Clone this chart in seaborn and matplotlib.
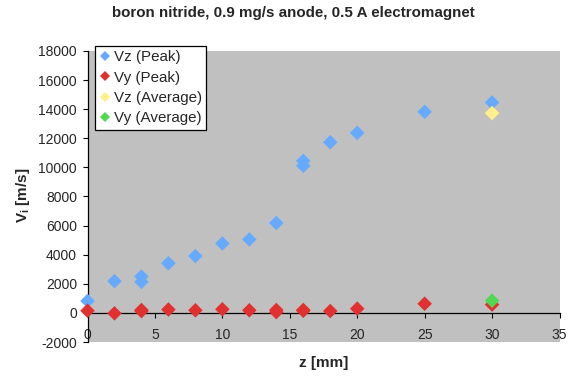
import matplotlib
matplotlib.use("Agg")
import matplotlib.pyplot as plt
import seaborn as sns
import pandas as pd

title = "boron nitride, 0.9 mg/s anode, 0.5 A electromagnet"
series_names = ["Vz (Peak)", "Vy (Peak)", "Vz (Average)", "Vy (Average)"]

z_peak = [0, 2, 4, 4, 6, 8, 10, 12, 14, 16, 16, 18, 20, 25, 30]
vz_peak = [820, 2180, 2500, 2130, 3410, 3910, 4770, 5050, 6180, 10450, 10110, 11730, 12370, 13820, 14460]
z_vy = [0, 2, 4, 4, 6, 8, 10, 12, 14, 14, 16, 16, 18, 20, 25, 30]
vy_peak = [150, -30, 200, 120, 230, 180, 250, 180, 200, 50, 200, 150, 130, 290, 630, 570]
z_avg = [30]
vz_avg = [13730]
vy_avg = [840]

xticks = [0, 5, 10, 15, 20, 25, 30, 35]
yticks = list(range(-2000, 18001, 2000))

colors = ["#66AAFF", "#E03030", "#FFF08A", "#50D850"]

df = pd.concat([
    pd.DataFrame({"z": z_peak, "v": vz_peak, "series": series_names[0]}),
    pd.DataFrame({"z": z_vy, "v": vy_peak, "series": series_names[1]}),
    pd.DataFrame({"z": z_avg, "v": vz_avg, "series": series_names[2]}),
    pd.DataFrame({"z": z_avg, "v": vy_avg, "series": series_names[3]}),
], ignore_index=True)

sns.set_style("white")
plt.rcParams["font.family"] = ["Liberation Sans", "DejaVu Sans"]
plt.rcParams["axes.unicode_minus"] = False
plt.rcParams["mathtext.fontset"] = "custom"
plt.rcParams["mathtext.rm"] = "Liberation Sans"
plt.rcParams["mathtext.bf"] = "Liberation Sans:bold"

W, H = 569, 377
L, R, T, B = 87.5, 559.5, 51, 342
fig = plt.figure(figsize=(W/100, H/100), dpi=100)
ax = fig.add_axes([L/W, 1-B/H, (R-L)/W, (B-T)/H])
ax.set_facecolor("#C0C0C0")

sns.scatterplot(data=df, x="z", y="v", hue="series", hue_order=series_names,
                palette=colors, marker="D", s=55, linewidth=0, ax=ax,
                clip_on=False, zorder=3)

ax.set_xlim(0, 35)
ax.set_ylim(-2000, 18000)
ax.set_xticks(xticks)
ax.set_yticks(yticks)
ax.tick_params(axis="both", labelsize=10, length=3.5, direction="out", color="black", width=0.8)
ax.tick_params(axis="x", pad=7.5)
ax.tick_params(axis="y", pad=4)
ax.yaxis.set_ticks_position("left")
ax.xaxis.set_ticks_position("bottom")

for s in ["top", "right"]:
    ax.spines[s].set_visible(False)
ax.spines["bottom"].set_position(("data", 0))
for s in ["bottom", "left"]:
    ax.spines[s].set_color("black")
    ax.spines[s].set_linewidth(0.9)
    ax.spines[s].set_zorder(2)

ax.set_xlabel("z [mm]", fontsize=11, fontweight="bold", va="center")
ax.xaxis.set_label_coords(0.5, (B-363)/(B-T))
ax.set_ylabel(r"$\mathbf{V_i}$ [m/s]", fontsize=11, fontweight="bold", va="center")
ax.yaxis.set_label_coords((22.5-L)/(R-L), 0.5 + (196.5-195)/(B-T))
fig.text(293/W, 1-13.5/H, title, fontsize=10.9, fontweight="bold", ha="center", va="center")

handles, labels = ax.get_legend_handles_labels()
leg = ax.legend(handles, labels, loc="upper left",
                bbox_to_anchor=((95-L)/(R-L), (B-46)/(B-T)),
                borderaxespad=0, fontsize=10.9, frameon=True, fancybox=False,
                edgecolor="black", facecolor="white", framealpha=1,
                handletextpad=0.15, borderpad=0.28, labelspacing=0.42, handlelength=0.8,
                markerscale=0.75)
leg.get_frame().set_linewidth(0.9)

fig.savefig("out.png", dpi=100, facecolor="white")
